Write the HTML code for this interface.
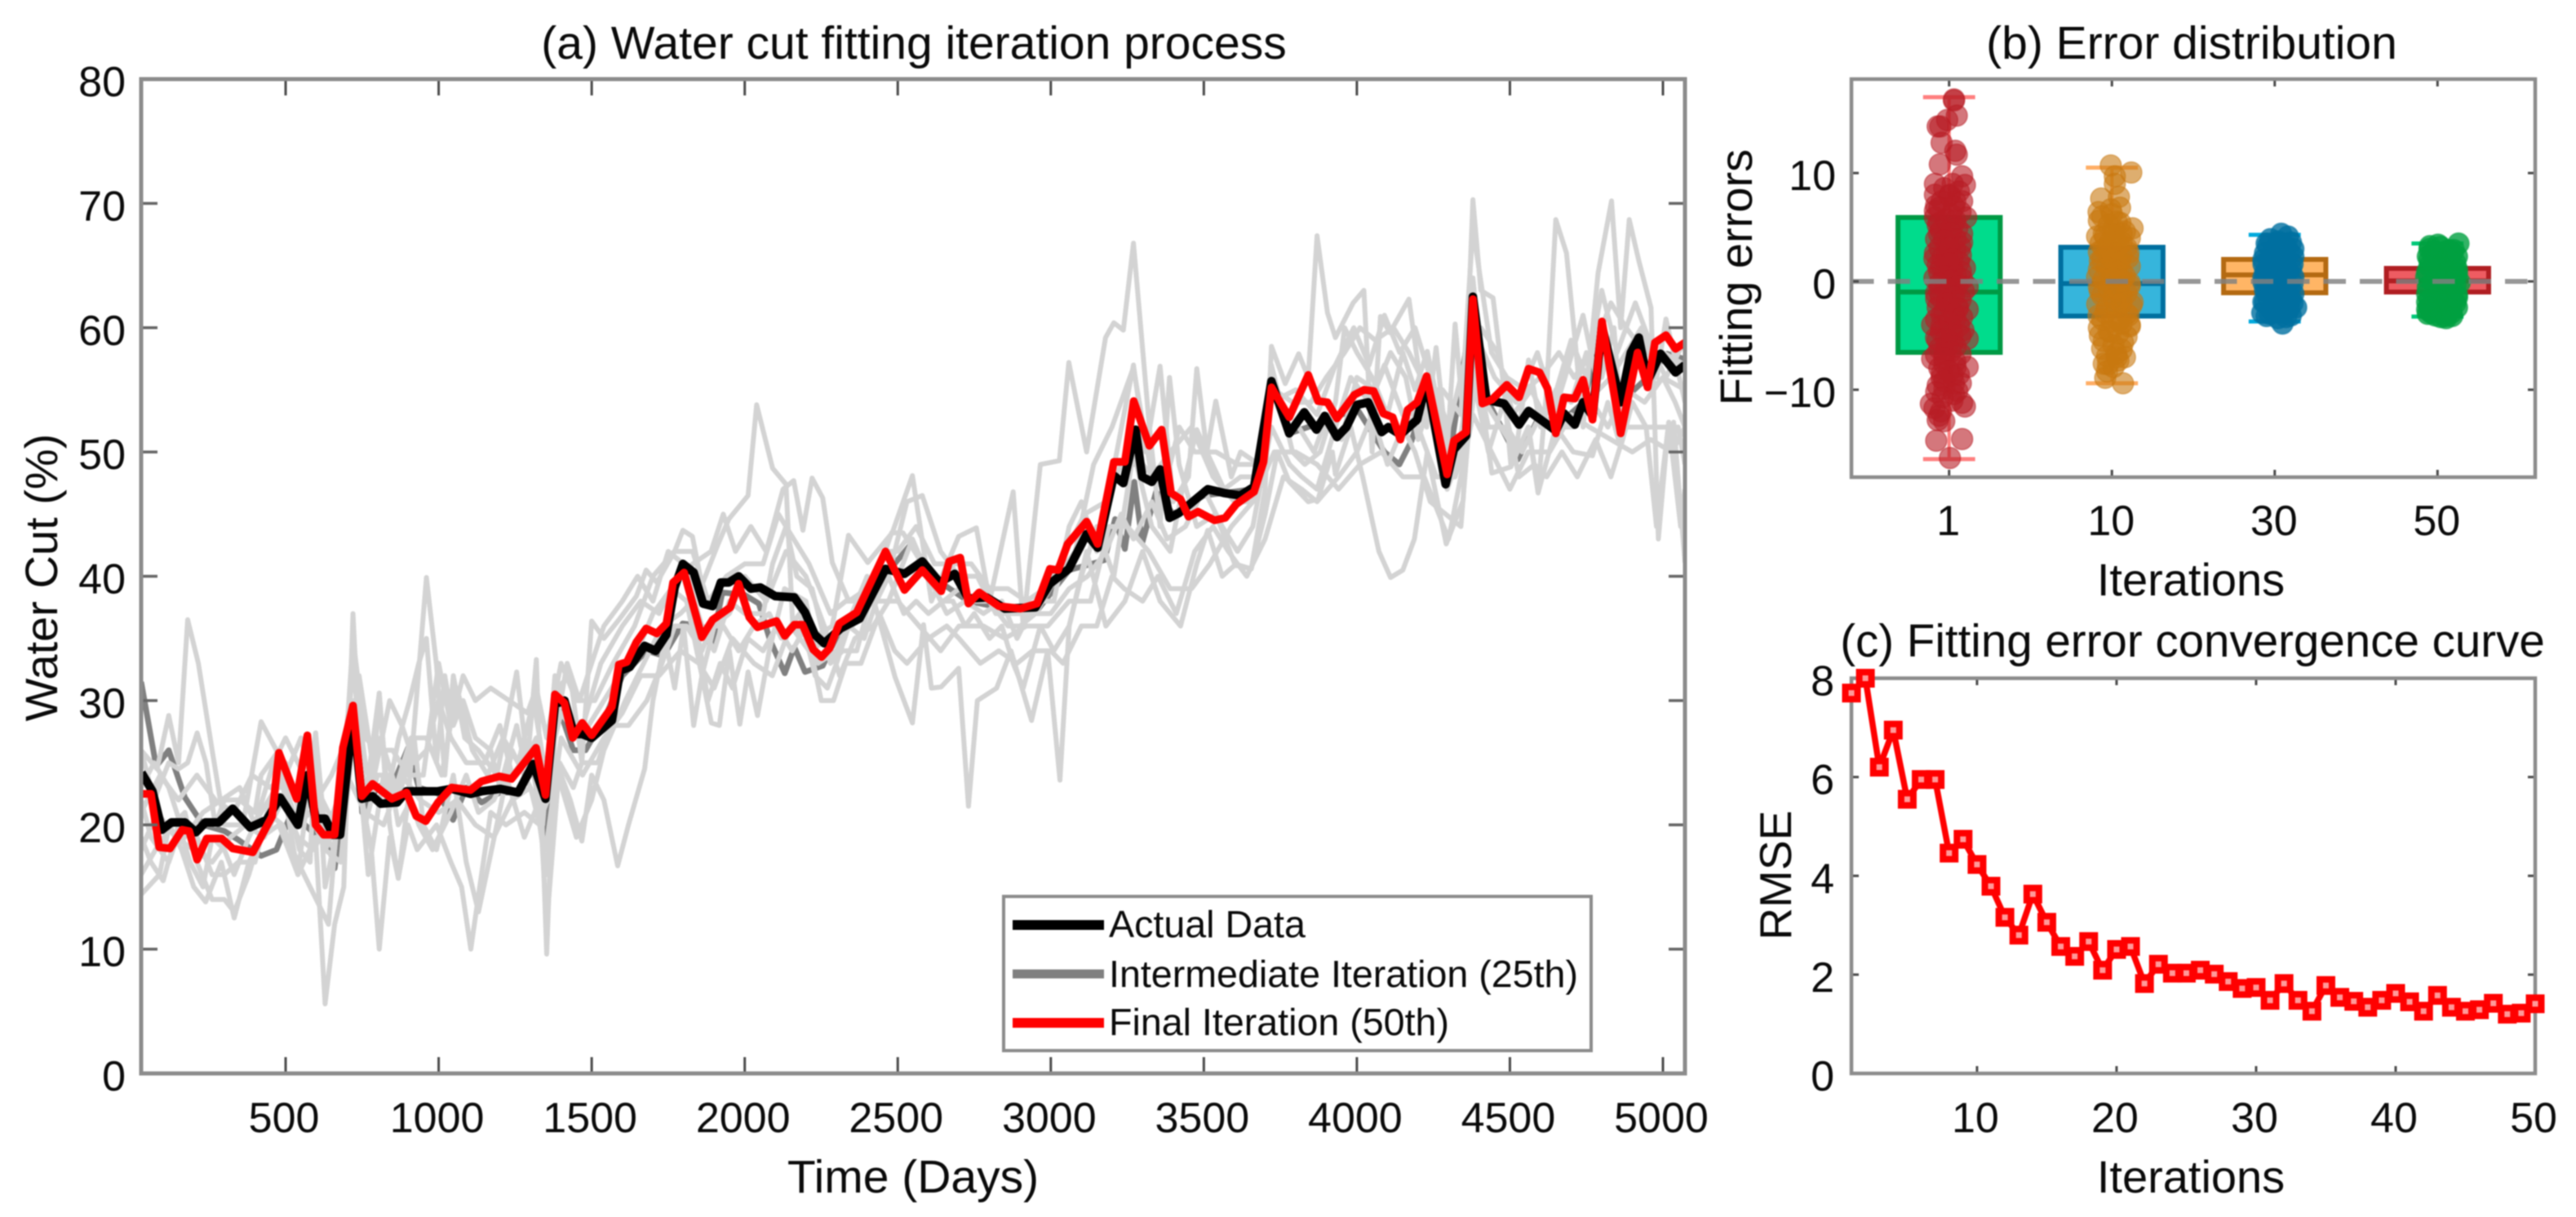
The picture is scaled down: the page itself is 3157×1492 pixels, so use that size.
<!DOCTYPE html>
<html lang="en">
<head>
<meta charset="utf-8">
<title>Water cut fitting iteration</title>
<style>
html,body{margin:0;padding:0;background:#fff;width:3157px;height:1492px;overflow:hidden}
svg{display:block;filter:blur(0.8px)}
text{font-family:"Liberation Sans",Arial,sans-serif;fill:#0a0a0a}
</style>
</head>
<body>
<svg id="chart" xmlns="http://www.w3.org/2000/svg" width="3157" height="1492" viewBox="0 0 3157 1492">
  <rect x="0" y="0" width="3157" height="1492" fill="#fff"/>
  <defs>
    <clipPath id="clipA"><rect x="173" y="97" width="1892" height="1219"/></clipPath>
  </defs>
  <g id="seriesA" clip-path="url(#clipA)"></g>
  <g id="axesA"></g>
  <g id="plotB"></g>
  <g id="axesB"></g>
  <g id="axesC"></g>
  <g id="plotC"></g>

  <text x="1120" y="72" font-size="57" text-anchor="middle">(a) Water cut fitting iteration process</text>
  <text x="1119" y="1462" font-size="57" text-anchor="middle">Time (Days)</text>
  <text transform="translate(70,708) rotate(-90)" font-size="56" text-anchor="middle">Water Cut (%)</text>

  <text x="2686" y="72" font-size="57" text-anchor="middle">(b) Error distribution</text>
  <text x="2685" y="730" font-size="56" text-anchor="middle">Iterations</text>
  <text transform="translate(2147,340) rotate(-90)" font-size="56" text-anchor="middle">Fitting errors</text>

  <text x="2687" y="805" font-size="56.5" text-anchor="middle">(c) Fitting error convergence curve</text>
  <text x="2685" y="1462" font-size="56" text-anchor="middle">Iterations</text>
  <text transform="translate(2195,1073) rotate(-90)" font-size="55" text-anchor="middle">RMSE</text>

  <g>
    <rect x="1230" y="1099" width="720" height="189" fill="#fff" stroke="#8c8c8c" stroke-width="4"/>
    <line x1="1241" x2="1353" y1="1134" y2="1134" stroke="#000" stroke-width="12"/>
    <text x="1359" y="1149" font-size="46.6">Actual Data</text>
    <line x1="1241" x2="1353" y1="1194" y2="1194" stroke="#808080" stroke-width="11"/>
    <text x="1359" y="1210" font-size="46.6">Intermediate Iteration (25th)</text>
    <line x1="1241" x2="1353" y1="1254" y2="1254" stroke="#f00" stroke-width="12"/>
    <text x="1359" y="1269" font-size="46.6">Final Iteration (50th)</text>
  </g>
</svg>

<script>
// ---------- Panel (a) data: [day, water cut %] ----------
const actualData = [[29,24.2],[65,22.7],[96,19.6],[127,20.2],[171,20.2],[207,19.4],[238,20.2],[282,20.2],[327,21.3],[384,19.8],[438,20.4],[482,22.2],[540,20],[571,24],[598,20.5],[629,20.5],[655,19.2],[678,19.2],[720,28.9],[749,22.1],[784,22.3],[811,21.7],[864,21.8],[895,22.7],[998,22.7],[1042,22.9],[1104,22.5],[1140,22.7],[1202,22.9],[1260,22.6],[1309,24.9],[1349,22.1],[1380,29.7],[1411,30],[1442,27.3],[1469,27.3],[1500,27],[1566,28.4],[1593,32.4],[1624,32.7],[1673,34.4],[1709,34],[1744,35.3],[1771,39.1],[1798,41],[1833,40.3],[1864,37.8],[1895,37.6],[1922,39.5],[1948,39.5],[1980,40],[2020,39],[2051,39.1],[2100,38.4],[2162,38.3],[2197,37.1],[2229,35.3],[2260,34.6],[2313,35.8],[2375,36.6],[2460,40.6],[2522,40.2],[2580,41.2],[2637,39.5],[2686,40.2],[2731,38.2],[2790,38.3],[2850,37.4],[2950,37.5],[2997,39.4],[3059,40.6],[3117,43.4],[3153,42.3],[3206,48.1],[3237,47.5],[3277,51.8],[3299,48],[3330,47.6],[3357,48.6],[3388,44.7],[3419,45.1],[3459,45.9],[3513,47],[3566,46.7],[3619,46.5],[3664,47.2],[3721,55.7],[3779,51.5],[3828,53.2],[3868,51.8],[3895,52.9],[3935,51.2],[3966,52],[4001,53.8],[4037,54],[4081,51.6],[4103,52],[4142,51.4],[4197,52.6],[4228,55.7],[4290,47.4],[4317,50.2],[4357,51.3],[4379,62.5],[4423,54.2],[4481,53.9],[4530,52.2],[4561,53.3],[4623,52.2],[4650,51.7],[4677,53.1],[4712,52.2],[4739,54],[4770,52.9],[4801,60.1],[4862,54],[4895,58],[4921,59.2],[4950,55.7],[4992,57.9],[5041,56.4],[5072,57]];

const finalIteration = [[29,22.5],[60,22.5],[87,18.2],[122,18.1],[162,19.6],[185,19.5],[211,17.2],[242,18.9],[291,18.9],[327,18.1],[393,17.8],[456,20.7],[478,25.8],[536,22.1],[571,27.2],[598,20],[624,19.2],[660,19.2],[687,26.2],[720,29.6],[749,22.3],[784,23.3],[847,22.1],[895,22.6],[927,20.7],[958,20.3],[998,21.8],[1042,23],[1104,22.8],[1140,23.5],[1198,23.9],[1238,23.7],[1318,26.2],[1349,22.4],[1380,30.5],[1411,29.8],[1438,27],[1469,28.2],[1500,27.2],[1549,28.9],[1566,29.5],[1589,32.9],[1615,33.1],[1646,34.7],[1678,35.8],[1713,35.4],[1744,36.2],[1766,39.5],[1802,40.3],[1860,35.1],[1895,36.5],[1953,37.5],[1980,39.4],[2015,36.7],[2042,35.9],[2104,36.4],[2131,35.2],[2162,36.1],[2189,36.1],[2224,34.1],[2251,33.5],[2277,34.2],[2309,36.2],[2366,37.1],[2460,42],[2522,38.9],[2580,40.5],[2642,38.8],[2668,41.2],[2704,41.5],[2731,37.8],[2766,38.7],[2830,37.6],[2902,37.4],[2955,37.8],[2997,40.6],[3024,40.5],[3055,42.6],[3117,44.4],[3153,42.6],[3206,49.2],[3242,49.2],[3271,54.1],[3322,50.5],[3362,51.8],[3393,46.7],[3424,46.2],[3450,44.8],[3481,45.2],[3535,44.5],[3570,44.7],[3606,45.8],[3664,46.8],[3695,49.2],[3721,55.2],[3779,52.8],[3841,56.2],[3873,54.1],[3904,54],[3935,52.7],[3992,54.6],[4024,55],[4055,54.9],[4086,53.1],[4117,52.8],[4142,51],[4166,53.4],[4197,54],[4228,56.1],[4295,48.2],[4317,50.9],[4357,51.6],[4379,62.3],[4410,53.9],[4441,54.2],[4490,55.4],[4530,54.4],[4561,56.7],[4597,56.4],[4623,55.1],[4650,51.5],[4677,54.4],[4712,54.3],[4739,55.8],[4770,52.6],[4801,60.5],[4862,51.5],[4917,58],[4950,55.2],[4974,58.8],[5010,59.4],[5041,58.3],[5072,58.8]];

const intermediateIteration = [[28,31.5],[77,24.7],[118,26],[171,22.2],[230,20],[300,19.5],[345,18.8],[420,17.5],[470,18],[520,21],[585,19.5],[640,18.5],[660,16.5],[700,24],[735,28],[750,21],[800,23],[860,23.8],[900,26.2],[935,23],[1000,22.5],[1047,20.4],[1090,23],[1140,21.8],[1200,22.6],[1260,22.6],[1310,24.5],[1349,19],[1385,30],[1440,26],[1480,26],[1550,29],[1600,32],[1680,34],[1735,33.6],[1797,36.2],[1860,36],[1891,34.3],[1927,38.7],[2000,38.5],[2046,37.8],[2082,34.9],[2131,32.2],[2162,34.3],[2197,32.3],[2255,32.8],[2313,35.8],[2375,36.6],[2455,40],[2544,42.6],[2580,41.3],[2640,39.5],[2730,38],[2850,37.4],[2960,37.4],[3060,40.5],[3148,41.1],[3175,41.3],[3210,44.6],[3242,42.2],[3273,47.6],[3299,42.7],[3344,46.8],[3400,45],[3500,46.5],[3660,47],[3721,56.2],[3780,51.5],[3900,52.5],[4000,53.5],[4090,50],[4139,49],[4179,50.9],[4228,55],[4290,47.5],[4379,62],[4430,54],[4526,49.4],[4588,52.5],[4650,52],[4740,54],[4800,59.5],[4862,54],[4950,56],[5014,57.9],[5068,57.5]];

const light1 = [[28,26],[80,24.5],[118,28.8],[150,25],[180,36.5],[215,33],[260,26],[300,20],[360,20],[420,28.3],[470,26],[500,22],[540,16],[598,27.4],[629,15],[680,21],[720,33],[760,22],[806,30.6],[840,20],[868,15.7],[900,22],[960,39.9],[993,32.8],[1020,24],[1048,32],[1085,27],[1130,26],[1190,24],[1255,32.3],[1290,25],[1319,33.3],[1353,9.6],[1385,31],[1430,32],[1468,25],[1500,36.4],[1540,35],[1589,36.5],[1646,38.4],[1678,40.5],[1713,39.5],[1771,42],[1798,43.7],[1829,43.2],[1860,39.3],[1913,42.6],[1948,44.6],[2011,46.5],[2039,53.8],[2091,48.7],[2135,47.4],[2157,36],[2220,35],[2286,36],[2339,43.3],[2402,41.1],[2482,43.5],[2548,48.1],[2610,38],[2699,43.2],[2757,43.9],[2800,38],[2877,46.8],[2910,36],[2966,49],[3028,49.3],[3059,57.2],[3117,50],[3179,59.2],[3206,60.4],[3237,59.8],[3270,66.8],[3322,52],[3357,44],[3388,56],[3419,49],[3477,44],[3539,45],[3601,41],[3655,40.6],[3700,47],[3721,58.5],[3766,55.5],[3810,57.9],[3841,56],[3870,67.4],[3904,61.2],[3930,59.2],[3988,62],[4023,63],[4050,50],[4077,60.9],[4108,59.6],[4170,62.3],[4201,56.8],[4228,52],[4259,58.4],[4295,50],[4321,60.3],[4350,52],[4379,70.3],[4405,63],[4445,62.4],[4481,55],[4503,49],[4561,52],[4592,47],[4620,55],[4650,68.7],[4685,66],[4712,59.2],[4739,52],[4788,64.4],[4832,70.2],[4862,60],[4890,68.7],[4921,65.4],[4961,61.6],[4985,43],[5010,50],[5035,52.4],[5072,41.1]];

const light2 = [[28,14.4],[88,16],[120,20],[160,18],[200,15],[239,13.8],[290,17],[332,12.5],[380,17],[420,19],[478,20],[540,16],[598,19],[629,5.6],[660,12],[690,15],[720,37],[750,22],[780,18],[806,10],[840,19],[868,15.7],[900,20],[930,18],[993,20],[1040,17],[1075,15],[1105,10],[1140,16],[1170,21],[1220,20],[1280,21],[1330,20],[1353,16],[1385,25],[1430,22],[1468,18.7],[1500,24],[1540,22],[1585,16.7],[1620,20],[1673,24.5],[1700,30],[1740,35],[1771,31],[1800,36],[1833,28],[1860,32],[1891,28.2],[1917,28],[1950,34],[1984,28.1],[2011,32.3],[2042,28.8],[2080,34],[2130,39],[2200,38],[2240,33],[2300,34],[2400,40],[2491,31.9],[2548,28.2],[2584,36.1],[2610,31],[2642,31.1],[2699,32.6],[2731,21.5],[2760,30],[2823,31],[2870,34],[2937,28.4],[2990,34],[3030,23.6],[3060,36],[3117,42],[3180,36],[3242,38],[3300,42],[3357,38],[3424,36],[3477,41],[3513,43.7],[3560,40],[3601,40.9],[3655,40.6],[3700,45],[3740,50],[3779,47.6],[3841,46],[3873,46.2],[3920,50],[3930,48.2],[3980,52],[4019,48],[4072,42],[4110,39.9],[4150,40.5],[4188,43],[4230,50],[4292,42.6],[4347,46.1],[4380,62],[4420,52],[4441,48.3],[4503,48.8],[4560,52],[4592,46.7],[4650,52],[4707,50],[4770,49.7],[4820,54],[4862,50.4],[4900,54],[4945,52],[4979,44],[5019,52.4],[5058,44],[5072,47]];

const light3 = [[28,26],[70,22],[118,25],[150,24.5],[180,25],[211,27.4],[240,25],[270,20],[300,22],[350,22],[400,21],[420,24],[478,26],[510,22],[545,18],[580,17],[598,27.4],[630,19],[660,18],[720,33],[760,25],[784,23],[806,30.6],[830,22],[870,27],[905,30],[935,33],[960,35],[993,25],[1020,32],[1048,28],[1080,30],[1120,27],[1170,26],[1200,23],[1255,28],[1280,25],[1319,27],[1353,22],[1385,28],[1420,33],[1460,30],[1500,33],[1540,36],[1600,38],[1650,40],[1700,38],[1750,42],[1800,41],[1860,36],[1900,34],[1950,38],[2000,37],[2060,37],[2091,41],[2135,44],[2170,40],[2220,39],[2280,33],[2320,34],[2366,34],[2430,40],[2480,43.5],[2517,43.5],[2580,41],[2642,38],[2680,38],[2720,36],[2750,37],[2800,35],[2840,36],[2877,33],[2910,31],[2966,36],[3010,34],[3060,36],[3100,40],[3150,44],[3206,40],[3270,50],[3330,44],[3390,42],[3430,47],[3477,51.8],[3521,49.4],[3566,47],[3620,48],[3680,48],[3721,56],[3770,52],[3810,52],[3860,50],[3904,53],[3950,51],[4000,56],[4060,55],[4110,58],[4160,56],[4200,51],[4250,55],[4295,47],[4340,50],[4379,64],[4420,54],[4470,52],[4520,50],[4561,57.4],[4600,52],[4650,55],[4700,54],[4750,58],[4800,56],[4840,60],[4862,53],[4921,58],[4961,55],[5000,56],[5040,54],[5072,52]];

const light4 = [[28,19],[60,17],[100,15.5],[150,20],[188,17],[230,15],[260,19],[300,18],[332,16],[380,19],[420,21],[470,23],[500,23],[540,20],[580,21],[629,18],[680,17],[720,27],[760,20],[800,24],[840,24],[868,20],[910,22],[935,20],[980,18],[1040,21],[1090,24],[1130,21],[1180,22],[1220,24],[1280,19],[1330,22],[1353,12],[1395,25],[1440,23],[1468,25],[1520,25],[1560,28],[1620,28],[1680,30],[1730,33],[1771,36],[1810,36],[1860,34],[1891,36],[1930,36],[1980,34],[2030,36],[2080,37],[2120,35],[2180,37],[2230,32],[2270,31],[2300,33],[2340,36],[2390,35],[2430,38],[2470,40],[2520,37],[2560,38],[2600,37],[2650,38],[2700,39],[2750,38],[2800,38],[2860,36],[2900,36],[2950,37],[3000,37],[3060,39],[3120,40],[3180,42],[3230,45],[3270,43],[3330,46],[3380,43],[3440,44],[3500,47],[3560,44],[3610,42],[3660,44],[3721,52],[3780,49],[3820,48],[3870,47],[3930,52],[3980,56],[4040,54],[4090,57],[4150,53],[4200,52],[4260,48],[4320,48],[4379,58],[4430,52],[4490,52],[4540,50],[4600,53],[4660,52],[4707,52],[4770,54],[4820,52],[4880,55],[4940,54],[5000,56],[5072,55]];

const light5 = [[28,22],[60,19],[118,17],[160,20],[211,19],[260,16],[300,16],[345,17],[400,17],[440,21],[500,25],[545,21],[580,25],[630,18],[700,22],[740,32],[790,24],[840,30],[880,28],[920,25],[960,26],[1000,30],[1040,27],[1090,25],[1150,25],[1200,28],[1240,24],[1300,26],[1340,20],[1380,32],[1440,27],[1490,28],[1540,30],[1590,32],[1650,34],[1700,37],[1760,39],[1810,38],[1860,32],[1900,36],[1950,37],[2000,40],[2070,38],[2135,42],[2200,40],[2260,36],[2310,32],[2360,35],[2420,36],[2470,38],[2548,43],[2600,40],[2660,37],[2720,38],[2780,37],[2840,38],[2890,35],[2950,38],[3010,38],[3060,44],[3100,46],[3150,42],[3200,48],[3270,57],[3310,50],[3357,56.9],[3400,46],[3450,48],[3477,56.7],[3510,50],[3539,54.1],[3590,48],[3620,50],[3680,49],[3721,57],[3790,50],[3830,49],[3880,50],[3930,54],[3960,60],[4000,58],[4050,56],[4100,53],[4150,58],[4190,55],[4230,58.1],[4280,52],[4321,48],[4370,52],[4405,60],[4460,58],[4510,53],[4570,55],[4630,52],[4680,56],[4739,61],[4790,55],[4830,56],[4880,58],[4930,60],[4980,56],[5010,60.7],[5072,54]];

const light6 = [[28,16],[75,18],[130,20],[171,21],[210,17],[260,14],[300,14],[332,13],[380,16],[440,21],[490,20],[540,17],[600,14],[640,12],[680,24],[720,30],[770,16],[820,24],[868,22],[920,27],[950,20],[993,18],[1048,24],[1090,17],[1130,13],[1190,20],[1240,26],[1280,24],[1340,21],[1390,24],[1450,19],[1500,22],[1540,26],[1610,30],[1670,33],[1730,36],[1790,37],[1830,38],[1880,30],[1920,33],[1960,31],[2010,35],[2060,34],[2105,36],[2155,34],[2200,36],[2250,30],[2290,30],[2330,33],[2380,33],[2440,37],[2490,34],[2530,33],[2600,35],[2660,36],[2700,35],[2770,33],[2830,34],[2890,33],[2940,34],[3000,34],[3040,33],[3100,36],[3150,36],[3200,40],[3240,39],[3300,38],[3350,40],[3410,37],[3470,42],[3530,44],[3580,42],[3640,40],[3700,43],[3760,48],[3820,47],[3870,46],[3940,48],[4000,50],[4050,53],[4100,49],[4150,52],[4190,50],[4240,46],[4290,45],[4340,44],[4379,56],[4430,50],[4480,54],[4530,48],[4580,49],[4620,48],[4670,50],[4720,48],[4780,51],[4830,48],[4880,52],[4940,52],[5000,52],[5050,52],[5072,49]];

const light7 = [[28,23],[70,25],[118,23],[170,19],[230,21],[290,22],[350,23],[400,20],[460,25],[500,27],[560,24],[600,23],[640,21],[680,20],[720,35],[760,27],[800,26],[850,26],[900,24],[950,24],[1000,33],[1040,28],[1080,32],[1120,30],[1170,31],[1230,30],[1290,29],[1319,31],[1353,27],[1400,33],[1450,30],[1510,30],[1570,33],[1640,36],[1700,40],[1770,42],[1830,42],[1880,38],[1940,40],[2000,41],[2060,41],[2110,45],[2160,43],[2210,41],[2280,37],[2330,38],[2400,38],[2460,42],[2500,42],[2560,44],[2620,41],[2680,41],[2740,41],[2800,39],[2860,39],[2920,38],[2980,39],[3050,42],[3110,45],[3180,46],[3230,49],[3300,49],[3370,47],[3420,52],[3470,50],[3540,50],[3610,49],[3670,49],[3730,55],[3790,54],[3850,54],[3900,56],[3960,58],[4010,60],[4060,59],[4120,60],[4170,58],[4230,55],[4280,55],[4340,53],[4379,68],[4440,58],[4490,56],[4550,55],[4600,56],[4660,58],[4710,56],[4770,58],[4830,62],[4880,60],[4940,58],[5000,58],[5072,57]];

const light8 = [[28,21],[90,24],[150,22],[210,24],[270,22],[330,21],[390,24],[450,23],[500,24],[550,27],[600,22],[650,24],[720,28],[770,24],[810,27],[860,23],[910,27],[960,27],[1010,24],[1060,31],[1110,26],[1160,24],[1210,27],[1260,25],[1310,30],[1350,24],[1400,29],[1460,27],[1530,33],[1600,36],[1660,38],[1720,37],[1780,40],[1830,41],[1890,42],[1930,45],[1970,42],[2020,44],[2070,42],[2125,47],[2160,47.7],[2190,43.7],[2220,47.9],[2255,46.3],[2286,41.1],[2340,38],[2400,39],[2480,41],[2530,46],[2580,46.5],[2640,42],[2700,40],[2760,40],[2820,37],[2880,37],[2950,37],[3020,40],[3080,42],[3140,49],[3200,52],[3270,56.8],[3330,48],[3390,50],[3460,52],[3530,48],[3600,46],[3660,46],[3721,54],[3800,55],[3870,53],[3930,57],[3990,60],[4040,57],[4090,61],[4140,58],[4190,60],[4240,56],[4300,52],[4379,60],[4450,56],[4520,54],[4590,58],[4640,54],[4700,59],[4750,56],[4800,63],[4850,58],[4910,62],[4970,58],[5010,56],[5072,59]];

const light9 = [[28,18],[80,21],[140,19],[200,18],[260,17],[320,19],[370,20],[430,19],[490,22],[540,19],[590,18],[640,20],[700,24],[760,21],[820,20],[880,24],[940,22],[1000,21],[1060,22],[1120,20],[1180,19],[1240,22],[1300,23],[1350,18],[1400,27],[1470,24],[1540,27],[1600,29],[1660,32],[1720,32],[1790,34],[1850,33],[1900,31],[1960,35],[2030,33],[2090,32],[2150,36],[2210,34],[2280,35],[2350,36],[2420,38],[2500,38],[2570,36],[2640,34],[2700,36],[2780,36],[2850,35],[2920,36],[2990,36],[3060,38],[3130,38],[3190,44],[3250,44],[3320,42],[3390,39],[3460,39],[3520,41],[3590,44],[3660,46],[3730,50],[3800,50],[3870,49],[3940,47],[4010,49],[4080,50],[4150,48],[4220,48],[4300,43],[4379,53],[4440,50],[4500,47],[4560,50],[4630,50],[4700,53],[4760,52],[4830,51],[4900,50],[4960,51],[5030,50],[5072,52]];

const timeTicks = [500,1000,1500,2000,2500,3000,3500,4000,4500,5000];
const cutTicks = [0,10,20,30,40,50,60,70,80];

// ---------- Panel (b) data ----------
const iterationCategories = ['1','10','30','50'];
const boxQ1 = [-6.55,-3.2,-1.05,-0.98];
const boxMedian = [-0.98,-0.2,0.6,0.05];
const boxQ3 = [5.9,3.15,2.03,1.2];
const whiskerLow = [-16.4,-9.4,-3.7,-3.25];
const whiskerHigh = [17,10.5,4.3,3.5];
const boxFill = ['#00dc8c','#36b5dc','#ffb565','#ee5c62'];
const boxStroke = ['#009944','#006f9f','#b46a12','#b01e22'];
const capColor = ['#ff7f7f','#ffae66','#00aadd','#00c878'];
const dotColor = ['#b81c24','#c8780f','#006fa0','#00a040'];
const errorTicks = [-10,0,10];

// jitter (category units), fitting error
const errors1 = [[.03,16.8],[.03,16.7],[.047,15.3],[-.054,14.3],[-.07,14.3],[-.012,14.9],[-.046,12.8],[.038,12.05],[.047,11.7],[-.057,10.8],[-.087,9],[.022,9],[.097,8.9],[.08,9.7],[-.087,8],[.005,8],[-.087,6.5],[.013,6.15],[.105,5.9],[-.087,5.9],[.022,5.15],[.08,4.4],[-.062,4.4],[-.087,2.6],[-.012,2.6],[.08,3.6],[.072,2.4],[.097,1.25],[-.062,.9],[.072,.9],[.022,1.1],[.114,-.5],[-.079,-1.6],[.055,-2.4],[.022,-1.1],[.114,-2.6],[-.046,-3.1],[-.104,-4],[.013,-4.3],[.088,-4.5],[.114,-5.3],[-.07,-5.4],[.022,-5.65],[-.029,-6.65],[-.104,-7.15],[-.029,-7.65],[.038,-7.4],[.114,-7.9],[-.046,-8.5],[.072,-9.4],[-.029,-9.9],[-.079,-10.2],[.03,-10.4],[.097,-11.55],[-.112,-11.3],[-.062,-12.4],[-.079,-14.7],[.08,-14.55],[.005,-16.3],[-.046,-8.9],[-.012,3.4],[.038,7.4],[-.046,7.4],[-.062,5.4],[.038,2.9],[-.012,1.6],[-.062,-.9],[-.012,-1.9],[.038,-3.4],[-.046,-4.1],[-.012,-5.9],[.022,-8.65],[.038,5.65],[-.046,1.4],[.038,-.1],[-.08,7],[0,7.9],[.06,8.3],[-.03,8.6],[.08,7.4],[-.06,6.8],[.03,6.9],[.07,6.4],[-.07,5.2],[-.02,5.7],[.05,4.9],[-.05,4.7],[.01,4.5],[-.08,3.9],[-.03,3.8],[.04,3.9],[.07,3.2],[-.06,3.1],[0,3.1],[-.09,2.1],[-.04,2.2],[.02,2.1],[.06,1.8],[-.07,1.5],[0,1.7],[.04,.6],[-.03,.5],[-.09,.3],[.08,.2],[.01,.1],[-.06,-.2],[.05,-.4],[-.02,-.6],[.09,-.9],[-.08,-1.1],[.03,-1.4],[-.05,-1.5],[.07,-1.7],[-.01,-2],[.05,-2.5],[-.07,-2.4],[-.03,-2.8],[.03,-3],[.08,-3.3],[-.08,-3.5],[0,-3.7],[.06,-4.1],[-.05,-4.6],[.02,-4.9],[.07,-5],[-.08,-5.2],[-.02,-5.3],[.04,-6],[-.06,-6.2],[.01,-6.5],[.07,-6.7],[-.08,-6.8],[-.03,-7.1],[.04,-7.9],[-.06,-8],[0,-8.3],[.06,-8.6],[-.03,-9.2],[.03,-9.4],[-.07,-9.6],[.05,-10.1],[-.04,-10.7],[.02,-11],[-.09,-11.7],[-.05,-12],[-.07,-12.8],[-.03,-12.9],[.08,-11.2]];
const errors2 = [[-.007,10.7],[.018,9.7],[.119,10.05],[.018,9],[-.066,7.65],[.043,7.8],[-.082,6.4],[.052,5.4],[.127,4.9],[-.091,4.15],[.01,4.9],[-.015,2.9],[.102,2.65],[-.074,1.9],[.06,.9],[-.007,1.15],[-.074,-.9],[.11,-.15],[.06,-1.4],[-.082,-3.15],[.027,-2.1],[.102,-3.15],[.11,-4.15],[-.007,-4.65],[-.074,-5],[.068,-5.65],[.027,-6.65],[-.024,-7.65],[-.041,-8.9],[.068,-9.4],[-.041,-2.9],[.01,-.65],[.06,2.4],[-.041,4.15],[-.007,6.65],[-.091,.4],[.127,-1.9],[.043,-3.6],[.06,3.6],[-.05,3],[.08,-7],[.03,1.5],[-.06,6],[0,6.2],[.05,6.8],[-.08,5.6],[-.02,5.2],[.03,5.5],[.08,4.6],[-.05,4.4],[.01,4.3],[.06,4.4],[.11,4],[-.07,3.5],[-.01,3.7],[.04,3.4],[.09,3.1],[-.08,2.7],[-.03,2.9],[.03,2.6],[.1,2.2],[-.06,2],[0,2.1],[.05,1.8],[.11,1.4],[-.08,1.1],[-.03,1.3],[.03,.9],[.08,.5],[-.05,.2],[0,.3],[.06,.1],[.11,-.4],[-.08,-.5],[-.02,-.7],[.04,-.8],[.09,-1.1],[-.06,-1.3],[.01,-1.6],[.06,-2],[.12,-2.2],[-.09,-2.1],[-.03,-2.4],[.03,-2.8],[.09,-3],[-.06,-3.5],[0,-3.7],[.06,-3.9],[.11,-4],[-.08,-4.3],[-.02,-4.6],[.04,-4.8],[.09,-5.1],[-.05,-5.5],[.01,-5.9],[.06,-6.3],[-.06,-6.2],[-.03,-6.9],[.03,-7],[.01,-7.9],[-.05,-7.6],[.04,-7.3],[-.03,-8.3]];
const errors3 = [[.04,4.4],[-.027,3.9],[.115,3],[-.035,1.9],[.115,2.3],[-.069,1.6],[.04,1.1],[.115,-1.13],[-.06,-1.9],[.032,-1.4],[.048,-3.9],[.132,-2.4],[-.077,-2.9],[.015,.1],[.115,.4],[-.069,-.1],[.065,-2.4],[-.019,.1],[-.002,2.9],[.082,4.15],[.099,-3.15],[-.019,-2.6],[.065,1.6],[-.04,3.3],[.06,2.5],[.1,1.2],[-.05,-.9],[.03,-.5],[.09,-.6],[-.02,-1.2],[0,1.4],[.07,3.2],[-.03,-3],[.11,-2],[-.06,.8],[-.05,3.5],[.02,3.7],[.1,3.6],[-.06,2.6],[.02,3],[.09,2.7],[-.07,2],[-.01,2.2],[.05,1.9],[.11,1.6],[-.05,.9],[.02,.7],[.08,.9],[-.07,.3],[0,-.1],[.06,.2],[.11,-.2],[-.06,-.8],[.03,-1],[.08,-1.2],[-.04,-1.5],[0,-1.9],[.06,-1.7],[.1,-1.6],[-.07,-1.9],[-.02,-2.6],[.04,-2.7],[.09,-2.5],[-.05,-3.2],[.02,-3.4],[.07,-3.3]];
const errors4 = [[-.047,3.26],[.129,3.5],[.003,1.9],[.12,2.3],[-.064,.88],[.12,1.1],[.037,.1],[-.064,-1.13],[.12,-1.25],[.003,-2.4],[.087,-2.9],[-.064,-2.6],[-.014,-3.15],[.053,-3.4],[.137,-.1],[.02,-1.4],[.07,2.9],[-.03,-.1],[.037,1.6],[.12,-2.4],[-.064,-1.9],[.003,3.4],[-.03,2.6],[.08,1.2],[.03,-.6],[.09,-1.5],[-.04,-2.9],[-.01,.5],[.06,-2.2],[.11,.4],[-.05,2],[.02,2.5],[.1,2.9],[.05,-3.2],[-.05,3],[.02,3.2],[.09,2.6],[-.06,2.3],[0,2.1],[.06,2.2],[.11,1.7],[-.05,1.4],[.01,1.2],[.06,.9],[.12,.7],[-.07,.4],[0,.3],[.07,.4],[.11,-.4],[-.06,-.5],[.01,-1],[.07,-.9],[.12,-1.5],[-.05,-1.7],[0,-1.9],[.06,-1.7],[.11,-2],[-.05,-2.4],[.02,-2.6],[.08,-2.5],[-.06,-3],[.02,-3.3],[.09,-3.2]];
const errorGroups = [errors1,errors2,errors3,errors4];

// ---------- Panel (c) data ----------
const rmseValues = [7.7,8,6.2,6.95,5.55,5.95,5.95,4.46,4.74,4.23,3.79,3.16,2.8,3.63,3.06,2.57,2.37,2.67,2.09,2.51,2.57,1.82,2.21,2.03,2.03,2.09,2.01,1.86,1.72,1.74,1.48,1.82,1.48,1.26,1.78,1.54,1.46,1.34,1.48,1.62,1.45,1.26,1.58,1.34,1.26,1.29,1.42,1.2,1.22,1.41];
const iterTicks = [10,20,30,40,50];
const rmseTicks = [0,2,4,6,8];

// ---------- Helpers ----------
const NS = 'http://www.w3.org/2000/svg';
function make(tag, attrs, parent){
  const el = document.createElementNS(NS, tag);
  for (const k in attrs) el.setAttribute(k, attrs[k]);
  parent.appendChild(el);
  return el;
}
function linear(d0,d1,r0,r1){ return v => r0 + (v-d0)*(r1-r0)/(d1-d0); }
const SPINE = '#8c8c8c', TICK = '#4a4a4a', FONT = 52;

// ---------- Panel (a) ----------
const xA = linear(28,5072,173,2065), yA = linear(0,80,1316,97);
function pathA(points){ return points.map((p,i)=>(i?'L':'M')+xA(p[0]).toFixed(1)+' '+yA(p[1]).toFixed(1)).join(''); }
const seriesA = document.getElementById('seriesA');
const axesA = document.getElementById('axesA');

const intermediateLine = make('path',{d:pathA(intermediateIteration),fill:'none',stroke:'#808080','stroke-width':7,'stroke-linejoin':'round'},seriesA);



[light1,light2,light3,light4,light5,light6,light7,light8,light9].forEach(function(series,i){
  const lightLine = make('path',{d:pathA(series),fill:'none',stroke:'#d3d3d3','stroke-width':6,'stroke-linejoin':'round'},seriesA);
  
  
});

const actualLine = make('path',{d:pathA(actualData),fill:'none',stroke:'#000','stroke-width':10.5,'stroke-linejoin':'round'},seriesA);



const finalLine = make('path',{d:pathA(finalIteration),fill:'none',stroke:'#f00','stroke-width':9.5,'stroke-linejoin':'round'},seriesA);



timeTicks.forEach(function(t){
  const x = xA(t);
  const tickBottom = make('line',{x1:x,x2:x,y1:1316,y2:1296,stroke:TICK,'stroke-width':3},axesA);
  
  
  const tickTop = make('line',{x1:x,x2:x,y1:97,y2:117,stroke:TICK,'stroke-width':3},axesA);
  
  
  const label = make('text',{x:x-2,y:1388,'font-size':FONT,'text-anchor':'middle'},axesA);
  label.textContent = t;
  
  
});
cutTicks.forEach(function(v){
  const y = yA(v);
  const tickLeft = make('line',{x1:173,x2:193,y1:y,y2:y,stroke:'#666','stroke-width':3.5},axesA);
  
  
  const tickRight = make('line',{x1:2065,x2:2045,y1:y,y2:y,stroke:'#666','stroke-width':3.5},axesA);
  
  
  const label = make('text',{x:154,y:y+21,'font-size':FONT,'text-anchor':'end'},axesA);
  label.textContent = v;
  
  
});
const frameA = make('rect',{x:173,y:97,width:1892,height:1219,fill:'none',stroke:SPINE,'stroke-width':5},axesA);



// ---------- Panel (b) ----------
const xB = linear(0.4,4.6,2269,3107), yB = linear(-18.07,18.67,585,97);
const plotB = document.getElementById('plotB');
const axesB = document.getElementById('axesB');
const BOX_HALF = 0.314, CAP_HALF = 0.16;

iterationCategories.forEach(function(cat,i){
  const cx = xB(i+1);
  const whisker = make('line',{x1:cx,x2:cx,y1:yB(whiskerLow[i]),y2:yB(whiskerHigh[i]),stroke:capColor[i],'stroke-width':4},plotB);
  
  
  const capHigh = make('line',{x1:xB(i+1-CAP_HALF),x2:xB(i+1+CAP_HALF),y1:yB(whiskerHigh[i]),y2:yB(whiskerHigh[i]),stroke:capColor[i],'stroke-width':5},plotB);
  
  
  const capLow = make('line',{x1:xB(i+1-CAP_HALF),x2:xB(i+1+CAP_HALF),y1:yB(whiskerLow[i]),y2:yB(whiskerLow[i]),stroke:capColor[i],'stroke-width':5},plotB);
  
  
  const box = make('rect',{x:xB(i+1-BOX_HALF),y:yB(boxQ3[i]),width:xB(i+1+BOX_HALF)-xB(i+1-BOX_HALF),height:yB(boxQ1[i])-yB(boxQ3[i]),fill:boxFill[i],stroke:boxStroke[i],'stroke-width':6},plotB);
  
  
  const median = make('line',{x1:xB(i+1-BOX_HALF),x2:xB(i+1+BOX_HALF),y1:yB(boxMedian[i]),y2:yB(boxMedian[i]),stroke:boxStroke[i],'stroke-width':6},plotB);
  
  
});

errorGroups.forEach(function(points,i){
  const group = make('g',{},plotB);
  
  
  points.forEach(function(p,j){
    const dot = make('circle',{cx:xB(i+1+p[0]),cy:yB(p[1]),r:13,fill:dotColor[i],'fill-opacity':(i>1?0.8:0.6),stroke:dotColor[i],'stroke-opacity':0.5,'stroke-width':1.5},group);
    
    
  });
});

const zeroLine = make('line',{x1:2269,x2:3107,y1:yB(0),y2:yB(0),stroke:'#808080','stroke-opacity':0.82,'stroke-width':6,'stroke-dasharray':'27.5 17'},plotB);



iterationCategories.forEach(function(cat,i){
  const x = xB(i+1);
  const tickBottom = make('line',{x1:x,x2:x,y1:585,y2:576,stroke:TICK,'stroke-width':3},axesB);
  
  
  const tickTop = make('line',{x1:x,x2:x,y1:97,y2:106,stroke:TICK,'stroke-width':3},axesB);
  
  
  const label = make('text',{x:x-1,y:656,'font-size':FONT,'text-anchor':'middle'},axesB);
  label.textContent = cat;
  
  
});
errorTicks.forEach(function(v){
  const y = yB(v);
  const tickLeft = make('line',{x1:2269,x2:2278,y1:y,y2:y,stroke:TICK,'stroke-width':3},axesB);
  
  
  const tickRight = make('line',{x1:3107,x2:3098,y1:y,y2:y,stroke:TICK,'stroke-width':3},axesB);
  
  
  const label = make('text',{x:2250,y:y+21,'font-size':FONT,'text-anchor':'end'},axesB);
  label.textContent = v < 0 ? '\u2212' + Math.abs(v) : String(v);
  
  
});
const frameB = make('rect',{x:2269,y:97,width:838,height:488,fill:'none',stroke:SPINE,'stroke-width':4.5},axesB);



// ---------- Panel (c) ----------
const xC = linear(1,50,2269,3107), yC = linear(0,8,1316,831.5);
const plotC = document.getElementById('plotC');
const axesC = document.getElementById('axesC');

iterTicks.forEach(function(t){
  const x = xC(t);
  const tickBottom = make('line',{x1:x,x2:x,y1:1316,y2:1307,stroke:TICK,'stroke-width':3},axesC);
  
  
  const tickTop = make('line',{x1:x,x2:x,y1:831.5,y2:840,stroke:TICK,'stroke-width':3},axesC);
  
  
  const label = make('text',{x:x-2,y:1388,'font-size':FONT,'text-anchor':'middle'},axesC);
  label.textContent = t;
  
  
});
rmseTicks.forEach(function(v){
  const y = yC(v);
  const tickLeft = make('line',{x1:2269,x2:2278,y1:y,y2:y,stroke:TICK,'stroke-width':3},axesC);
  
  
  const tickRight = make('line',{x1:3107,x2:3098,y1:y,y2:y,stroke:TICK,'stroke-width':3},axesC);
  
  
  const label = make('text',{x:2248,y:y+21,'font-size':FONT,'text-anchor':'end'},axesC);
  label.textContent = v;
  
  
});
const frameC = make('rect',{x:2269,y:831.5,width:838,height:484.5,fill:'none',stroke:SPINE,'stroke-width':4.5},axesC);



const rmseLine = make('path',{d:rmseValues.map((v,i)=>(i?'L':'M')+xC(i+1).toFixed(1)+' '+yC(v).toFixed(1)).join(''),fill:'none',stroke:'#f00','stroke-width':7.5,'stroke-linejoin':'round'},plotC);


rmseValues.forEach(function(v,i){
  const marker = make('rect',{x:xC(i+1)-7.5,y:yC(v)-7.5,width:15,height:15,fill:'#ff9a9a',stroke:'#f00','stroke-width':8},plotC);
  
  
});
</script>
</body>
</html>
